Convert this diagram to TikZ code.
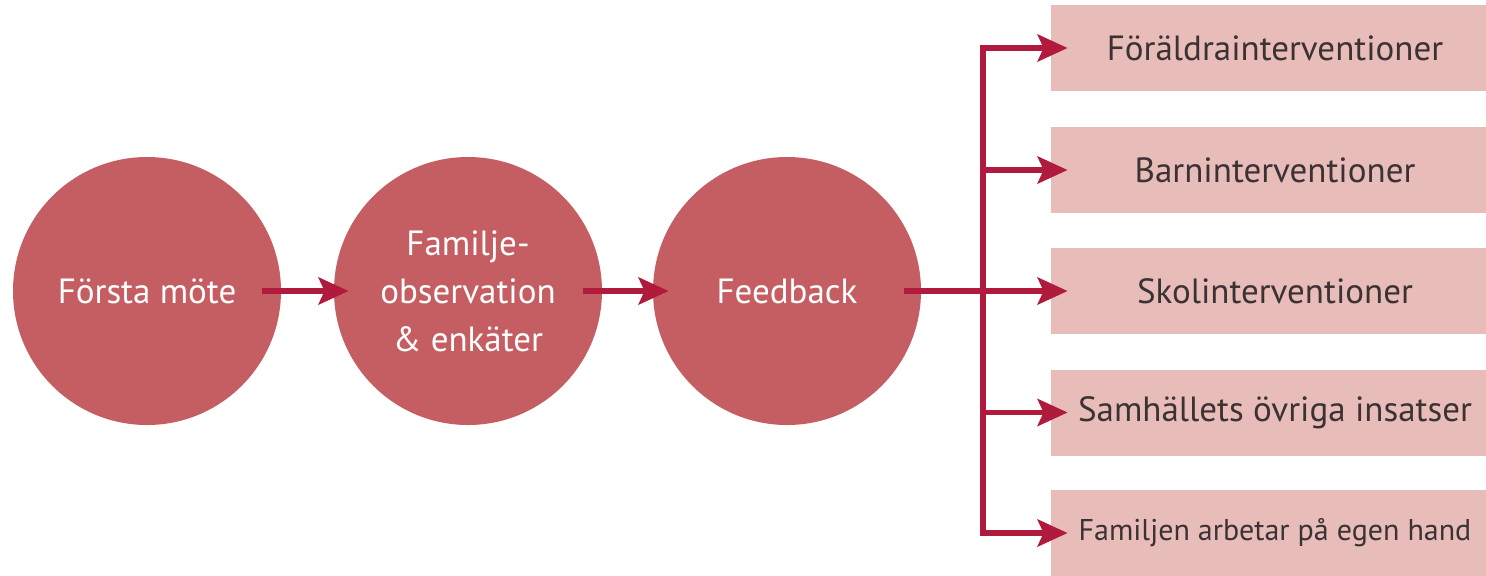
\documentclass[tikz,border=0pt]{standalone}
\usepackage{fontspec}
\setmainfont{PT Sans}
\usetikzlibrary{arrows.meta}
\definecolor{circfill}{HTML}{C55E62}
\definecolor{boxfill}{HTML}{E8BCB9}
\definecolor{arrcol}{HTML}{B01A3C}
\definecolor{boxtext}{HTML}{3A3233}
\tikzset{
  stagecirc/.style={circle, fill=circfill, minimum size=134pt, inner sep=0pt, text=white, align=center,
    font=\fontsize{17.5pt}{24pt}\selectfont},
  outbox/.style={rectangle, fill=boxfill, minimum width=224pt, minimum height=43pt, inner sep=0pt,
    text=boxtext, font=\fontsize{17.5pt}{21pt}\selectfont},
  link/.style={draw=arrcol, line width=2.8pt},
  arr/.style={link, -{Stealth[length=15pt, width=13.5pt, inset=3pt]}}
}
\begin{document}
\begin{tikzpicture}[x=0.5pt,y=-0.5pt]
\useasboundingbox (0,0) rectangle (1486,575);
\node[stagecirc] (c1) at (147,291) {Första möte};
\node[stagecirc] (c2) at (468,291) {Familje-\\observation\\\& enkäter};
\node[stagecirc] (c3) at (787,291) {Feedback};
\node[outbox] (b1) at (1275,48) {Föräldrainterventioner};
\node[outbox] (b2) at (1275,170) {Barninterventioner};
\node[outbox] (b3) at (1275,291) {Skolinterventioner};
\node[outbox] (b4) at (1275,412.5) {Samhällets övriga insatser};
\node[outbox, font=\fontsize{15pt}{18pt}\selectfont] (b5) at (1275,533) {Familjen arbetar på egen hand};
\draw[arr] ([xshift=-9.5pt]c1.east) -- ([xshift=7.5pt]c2.west);
\draw[arr] ([xshift=-9.5pt]c2.east) -- ([xshift=8pt]c3.west);
\coordinate (j1) at (983,48);
\coordinate (j2) at (983,170);
\coordinate (j3) at (983,291);
\coordinate (j4) at (983,412.5);
\coordinate (j5) at (983,533);
\draw[link] ([xshift=-8.5pt]c3.east) -- (j3);
\draw[link, line cap=rect] (j1) -- (j5);
\foreach \i in {1,...,5} {
  \draw[arr] (j\i) -- ([xshift=8.5pt]b\i.west);
}
\end{tikzpicture}
\end{document}
